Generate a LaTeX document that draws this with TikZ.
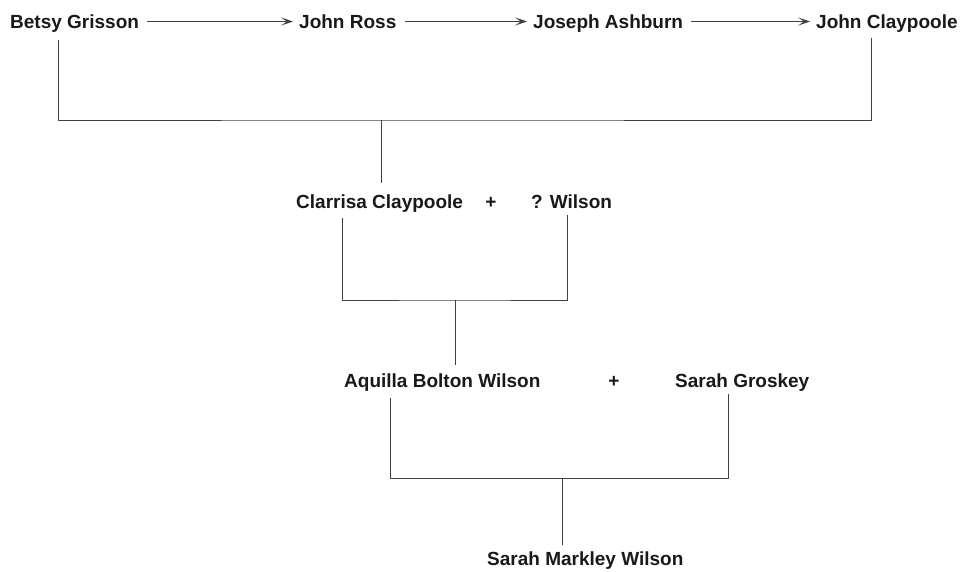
\documentclass[tikz,border=0pt]{standalone}
\usepackage{fontspec}
\setmainfont{Liberation Sans}
\usetikzlibrary{arrows.meta}
\tikzset{
    person/.style={anchor=base west,inner sep=0pt,font=\fontsize{19}{22}\selectfont\bfseries,text=black!90},
    plus/.style={anchor=base,inner sep=0pt,font=\fontsize{19}{22}\selectfont\bfseries,text=black!90},
    line/.style={draw=black!75,line width=.8pt},
    arr/.style={line,-{Stealth[length=12pt,width=8pt,inset=6pt]},shorten <=8pt,shorten >=6pt}
}
\begin{document}
\begin{tikzpicture}[line join=round,x=1pt,y=1pt]
    \useasboundingbox (0,0) rectangle (968,-571);
    % line of descent
    \node[person] (betsy) at (10,-28) {Betsy Grisson};
    \node[person] (ross) at (299,-28) {John Ross};
    \node[person] (ashburn) at (533,-28) {Joseph Ashburn};
    \node[person] (jclay) at (816,-28) {John Claypoole};
    \foreach \a/\b in {betsy/ross,ross/ashburn,ashburn/jclay}
        \draw[arr] ([yshift=6.5pt]\a.base east) -- ([yshift=6.5pt]\b.base west);
    % couples
    \node[person] (clarrisa) at (296,-208) {Clarrisa Claypoole};
    \node[plus] (plusA) at (491,-208) {+};
    \node[person] (qwilson) at (531,-208) {? Wilson};
    \node[person] (aquilla) at (344,-387) {Aquilla Bolton Wilson};
    \node[plus] (plusB) at (614,-387) {+};
    \node[person] (groskey) at (675,-387) {Sarah Groskey};
    \node[person] (smw) at (487,-565) {Sarah Markley Wilson};
    % brackets
    \coordinate (barA) at (381,-120);
    \coordinate (barB) at (455,-300);
    \coordinate (barC) at (562,-478);
    \draw[line] ([xshift=48pt,yshift=-8pt]betsy.south west) |- (barA) -| ([xshift=55pt,yshift=-6pt]jclay.south west);
    \draw[line,shorten >=11pt] (barA) -- (barA |- clarrisa.north);
    \draw[line] ([xshift=46pt,yshift=-6pt]clarrisa.south west) |- (barB) -| ([xshift=36pt,yshift=-7pt]qwilson.south west);
    \draw[line,shorten >=8pt] (barB) -- (barB |- aquilla.north);
    \draw[line] ([xshift=46pt,yshift=-7pt]aquilla.south west) |- (barC) -| ([xshift=53pt,yshift=-3pt]groskey.south west);
    \draw[line,shorten >=6pt] (barC) -- (barC |- smw.north);
\end{tikzpicture}
\end{document}
